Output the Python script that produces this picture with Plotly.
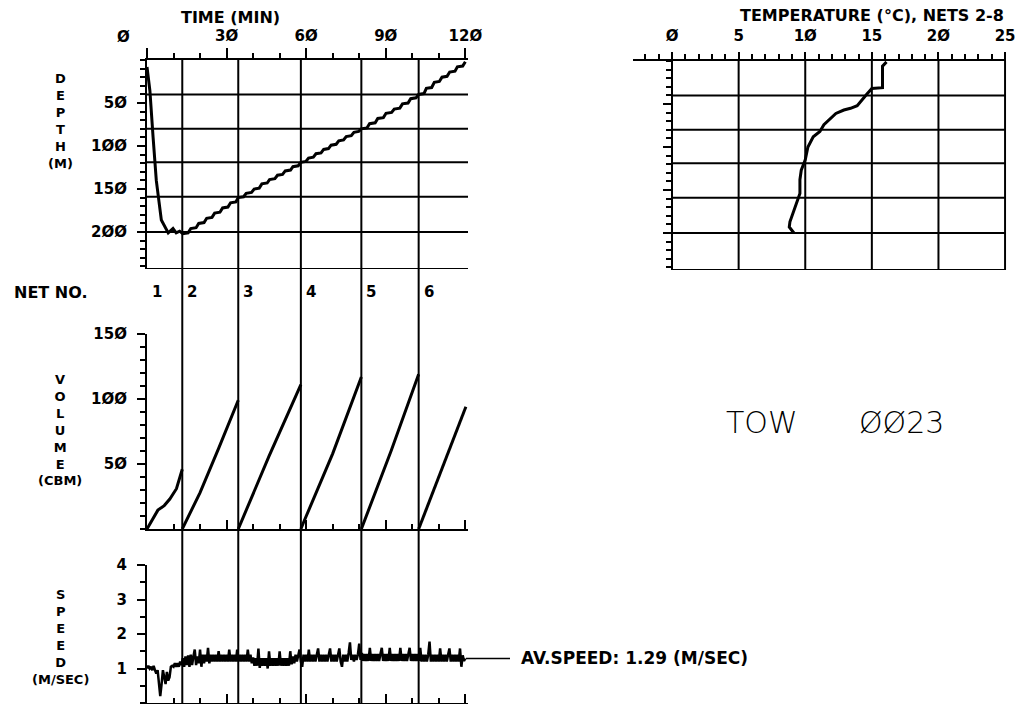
import plotly.graph_objects as go

W, H = 1019, 704


def fx(px):
    return px / W


def fy(py):
    return 1 - py / H


# ---------------- data ----------------
NET_NUMBERS = ["1", "2", "3", "4", "5", "6"]
NET_START_MIN = [0.0, 13.3, 34.4, 58.0, 80.8, 102.4]
NET_DEPTH_M = [200, 159, 119, 80, 40]          # depth at which nets 2-6 opened

DEPTH_TIME_MIN = [0.0, 1.1, 2.3, 3.5, 5.4, 7.3, 8.0, 9.8, 11.0, 12.3, 13.5,
                  15.5, 16.5, 18.5, 19.5, 21.5, 22.5, 24.5, 25.5, 27.5, 28.5, 30.5, 31.5, 33.5, 34.4,
                  36.4, 37.4, 39.4, 40.4, 42.3, 43.3, 45.3, 46.2, 48.2, 49.2, 51.1, 52.1, 54.1, 55.0, 57.0, 58.0,
                  59.9, 60.9, 62.7, 63.7, 65.6, 66.6, 68.4, 69.4, 71.3, 72.3, 74.1, 75.1, 77.0, 78.0, 79.8, 80.8,
                  82.9, 83.9, 86.0, 87.0, 89.1, 90.1, 92.2, 93.2, 95.3, 96.3, 98.4, 99.4, 101.4, 102.4,
                  104.4, 105.3, 107.3, 108.3, 110.2, 111.2, 113.1, 114.1, 116.1, 117.0, 119.0, 120.0]
DEPTH_M = [8, 36, 90, 140, 186, 198, 201, 196, 201, 199, 202,
           201, 196, 195, 190, 189, 184, 183, 178, 177, 172, 171, 166, 165, 160,
           159, 155, 154, 150, 149, 144, 143, 139, 138, 134, 133, 129, 128, 124, 123, 119,
           118, 114, 113, 109, 108, 104, 103, 99, 98, 94, 93, 89, 88, 84, 83, 80,
           79, 74, 73, 68, 67, 62, 61, 57, 56, 51, 50, 45, 44, 40,
           39, 33, 32, 26, 25, 20, 19, 14, 13, 8, 7, 2]

TEMP_C = [16.1, 15.8, 15.8, 15.0, 14.6, 14.3, 13.9, 13.4, 12.9, 12.3, 11.9, 11.4,
          11.1, 10.6, 10.2, 10.0, 9.7, 9.6, 9.6, 9.35, 9.1, 8.85, 8.8, 9.0, 9.15]
TEMP_DEPTH_M = [1, 6, 31, 32, 39, 45, 52, 55, 57, 61, 67, 74,
                82, 88, 100, 115, 127, 138, 154, 165, 177, 187, 193, 197, 200]

VOL_NET_TIME_MIN = [
    [0.0, 2.5, 4.1, 6.5, 8.6, 11.1, 13.3],
    [13.3, 20.0, 27.0, 34.4],
    [34.4, 46.0, 58.0],
    [58.0, 59.0, 70.0, 80.8],
    [80.8, 92.0, 102.4],
    [102.4, 120.2],
]
VOL_NET_CBM = [
    [0, 9, 14.5, 18, 23, 31, 46],
    [0, 28, 62, 99],
    [0, 56, 111],
    [0, 5, 58, 117],
    [0, 60, 119],
    [0, 94],
]

# flow speed sampled every half minute, 0 ... 120 min
SPEED_TIME_MIN = [i * 0.5 for i in range(241)]
SPEED_MS = [
    1.00, 1.08, 1.00, 1.05, 0.95, 1.08, 0.95, 0.85, 0.95, 0.60,
    0.20, 0.55, 0.95, 0.75, 0.55, 0.90, 0.65, 0.75, 1.05, 1.08,
    1.05, 1.15, 1.05, 1.15, 1.05, 1.20, 1.10, 1.30, 1.05, 1.35,
    1.10, 1.38, 1.05, 1.40, 1.10, 1.35, 1.55, 1.10, 1.35, 1.15,
    1.55, 1.05, 1.40, 1.15, 1.40, 1.20, 1.60, 1.15, 1.40, 1.20,
    1.40, 1.20, 1.40, 1.20, 1.50, 1.20, 1.40, 1.20, 1.40, 1.20,
    1.40, 1.20, 1.55, 1.20, 1.40, 1.20, 1.40, 1.20, 1.55, 1.20,
    1.40, 1.20, 1.40, 1.20, 1.40, 1.20, 1.55, 1.20, 1.40, 1.15,
    1.32, 1.08, 1.30, 1.08, 1.58, 1.02, 1.30, 1.08, 1.30, 1.08,
    1.30, 1.00, 1.50, 1.08, 1.30, 1.08, 1.30, 1.08, 1.30, 1.08,
    1.50, 1.08, 1.30, 1.08, 1.30, 1.08, 1.30, 1.08, 1.50, 1.12,
    1.35, 1.15, 1.40, 1.20, 1.40, 1.55, 1.20, 1.05, 1.40, 1.20,
    1.40, 1.20, 1.55, 1.20, 1.40, 1.20, 1.40, 1.20, 1.40, 1.58,
    1.20, 1.40, 1.20, 1.40, 1.20, 1.40, 1.20, 1.40, 1.58, 1.20,
    1.40, 1.20, 1.40, 1.20, 1.40, 1.58, 1.20, 1.05, 1.40, 1.20,
    1.40, 1.20, 1.45, 1.76, 1.25, 1.40, 1.20, 1.40, 1.25, 1.40,
    1.72, 1.25, 1.45, 1.22, 1.42, 1.22, 1.42, 1.22, 1.60, 1.22,
    1.42, 1.22, 1.42, 1.22, 1.42, 1.22, 1.42, 1.60, 1.22, 1.42,
    1.22, 1.42, 1.22, 1.60, 1.22, 1.42, 1.22, 1.42, 1.22, 1.42,
    1.22, 1.60, 1.22, 1.42, 1.22, 1.42, 1.22, 1.42, 1.60, 1.22,
    1.42, 1.22, 1.42, 1.22, 1.42, 1.22, 1.60, 1.20, 1.40, 1.20,
    1.40, 1.20, 1.40, 1.78, 1.20, 1.40, 1.20, 1.40, 1.20, 1.40,
    1.20, 1.58, 1.20, 1.40, 1.20, 1.40, 1.20, 1.40, 1.58, 1.20,
    1.40, 1.20, 1.40, 1.20, 1.40, 1.20, 1.58, 1.05, 1.38, 1.22,
    1.29,
]
AV_SPEED = 1.29

TIME_TICKS = [0, 30, 60, 90, 120]
TIME_TICK_TEXT = ["", "3Ø", "6Ø", "9Ø", "12Ø"]
DEPTH_TICKS = [50, 100, 150, 200]
DEPTH_TICK_TEXT = ["5Ø", "1ØØ", "15Ø", "2ØØ"]
TEMP_TICKS = [0, 5, 10, 15, 20, 25]
TEMP_TICK_TEXT = ["Ø", "5", "1Ø", "15", "2Ø", "25"]
VOL_TICKS = [50, 100, 150]
VOL_TICK_TEXT = ["5Ø", "1ØØ", "15Ø"]
SPEED_TICKS = [1, 2, 3, 4]
SPEED_TICK_TEXT = ["1", "2", "3", "4"]

# ---------------- styling ----------------
INK = "black"
BOLD = dict(family="DejaVu Sans", size=15, color=INK, weight="bold")
TITLE_FONT = dict(family="DejaVu Sans", size=16, color=INK, weight="bold")
LABEL_FONT = dict(family="DejaVu Sans", size=13, color=INK, weight="bold")

TIME_RANGE = [0, 121]
DEPTH_RANGE = [243, 0]
X_DOM = [fx(147), fx(468)]


def axis_common(**kw):
    d = dict(showline=True, linecolor=INK, linewidth=2, showgrid=False,
             zeroline=False, tickcolor=INK, tickwidth=2, tickfont=BOLD,
             fixedrange=True, automargin=False)
    d.update(kw)
    return d


fig = go.Figure()

fig.add_trace(go.Scatter(x=DEPTH_TIME_MIN, y=DEPTH_M, mode="lines",
                         line=dict(color=INK, width=3), xaxis="x", yaxis="y"))
fig.add_trace(go.Scatter(x=TEMP_C, y=TEMP_DEPTH_M, mode="lines",
                         line=dict(color=INK, width=3), xaxis="x2", yaxis="y2"))
vx, vy = [], []
for ts, vs in zip(VOL_NET_TIME_MIN, VOL_NET_CBM):
    vx += ts + [None]
    vy += vs + [None]
fig.add_trace(go.Scatter(x=vx, y=vy, mode="lines", connectgaps=False,
                         line=dict(color=INK, width=3), xaxis="x3", yaxis="y3"))
fig.add_trace(go.Scatter(x=SPEED_TIME_MIN, y=SPEED_MS, mode="lines",
                         line=dict(color=INK, width=2.5), xaxis="x4", yaxis="y4"))

shapes = []
for t in NET_START_MIN[1:]:
    shapes.append(dict(type="line", xref="x", yref="paper", x0=t, x1=t,
                       y0=fy(703), y1=fy(60), line=dict(color=INK, width=2)))
for d in NET_DEPTH_M + [DEPTH_RANGE[0]]:
    shapes.append(dict(type="line", xref="x", yref="y", x0=0, x1=TIME_RANGE[1],
                       y0=d, y1=d, line=dict(color=INK, width=2)))
for d in NET_DEPTH_M + [DEPTH_RANGE[0]]:
    shapes.append(dict(type="line", xref="x2", yref="y2", x0=0, x1=25,
                       y0=d, y1=d, line=dict(color=INK, width=2)))
for t in TEMP_TICKS[1:]:
    shapes.append(dict(type="line", xref="x2", yref="y2", x0=t, x1=t,
                       y0=0, y1=DEPTH_RANGE[0], line=dict(color=INK, width=2)))
shapes.append(dict(type="line", xref="paper", yref="y4", x0=fx(466), x1=fx(510),
                   y0=AV_SPEED, y1=AV_SPEED, line=dict(color=INK, width=1.5)))

annotations = []


def ann(text, x, y, font, xanchor="center", yanchor="middle", xref="paper", align="center", **kw):
    d = dict(text=text, x=x, y=y, xref=xref, yref="paper", showarrow=False,
             font=font, xanchor=xanchor, yanchor=yanchor, align=align)
    d.update(kw)
    annotations.append(d)


ann("TIME (MIN)", fx(230), fy(17), TITLE_FONT)
ann("Ø", fx(123), fy(37), BOLD)
ann("TEMPERATURE (°C), NETS 2-8", fx(1006), fy(15), TITLE_FONT, xanchor="right")
ann("D<br>E<br>P<br>T<br>H<br>(M)", fx(60), fy(121), LABEL_FONT)
ann("V<br>O<br>L<br>U<br>M<br>E<br>(CBM)", fx(60), fy(430), LABEL_FONT)
ann("S<br>P<br>E<br>E<br>D<br>(M/SEC)", fx(60), fy(637), LABEL_FONT)
ann("NET NO.", fx(12), fy(292), TITLE_FONT, xanchor="left")
for n, t in zip(NET_NUMBERS, NET_START_MIN):
    ann(n, t, fy(292), BOLD, xanchor="left", xref="x", xshift=3)
ann("AV.SPEED: %.2f (M/SEC)" % AV_SPEED, fx(519), fy(658),
    dict(family="DejaVu Sans", size=17, color=INK, weight="bold"), xanchor="left")
TOW_FONT = dict(family="DejaVu Sans", size=30, color=INK, weight=300)
ann("TOW", fx(724), fy(422), TOW_FONT, xanchor="left")
ann("ØØ23", fx(857), fy(422), TOW_FONT, xanchor="left")

fig.update_layout(
    width=W, height=H, margin=dict(l=0, r=0, t=0, b=0, autoexpand=False),
    paper_bgcolor="white", plot_bgcolor="white", showlegend=False,
    shapes=shapes, annotations=annotations,
    xaxis=axis_common(domain=X_DOM, range=TIME_RANGE, anchor="y", side="top",
                      tickmode="array", tickvals=TIME_TICKS, ticktext=TIME_TICK_TEXT,
                      ticks="outside", ticklen=10, ticklabelstandoff=1,
                      minor=dict(ticks="outside", ticklen=5, dtick=10, tick0=0,
                                 tickcolor=INK, tickwidth=2, showgrid=False)),
    yaxis=axis_common(domain=[fy(269), fy(60)], range=DEPTH_RANGE, anchor="x",
                      tickmode="array", tickvals=DEPTH_TICKS, ticktext=DEPTH_TICK_TEXT,
                      ticks="outside", ticklen=8, ticklabelstandoff=7,
                      minor=dict(ticks="outside", ticklen=5, dtick=10, tick0=0,
                                 tickcolor=INK, tickwidth=2, showgrid=False)),
    xaxis2=axis_common(domain=[fx(633.4), fx(1006.4)], range=[-2.9, 25.1], anchor="y2",
                       side="top", tickmode="array", tickvals=TEMP_TICKS,
                       ticktext=TEMP_TICK_TEXT, ticks="outside", ticklen=7,
                       ticklabelstandoff=5,
                       minor=dict(ticks="outside", ticklen=5, dtick=1, tick0=0,
                                  tickcolor=INK, tickwidth=2, showgrid=False)),
    yaxis2=axis_common(domain=[fy(270), fy(61)], range=DEPTH_RANGE, anchor="free",
                       position=fx(672), tickmode="array", tickvals=DEPTH_TICKS,
                       showticklabels=False, ticks="outside", ticklen=8,
                       minor=dict(ticks="outside", ticklen=5, dtick=10, tick0=0,
                                  tickcolor=INK, tickwidth=2, showgrid=False)),
    xaxis3=axis_common(domain=X_DOM, range=TIME_RANGE, anchor="y3",
                       tickmode="array", tickvals=TIME_TICKS, showticklabels=False,
                       ticks="inside", ticklen=9,
                       minor=dict(ticks="inside", ticklen=5, dtick=10, tick0=0,
                                  tickcolor=INK, tickwidth=2, showgrid=False)),
    yaxis3=axis_common(domain=[fy(529), fy(334)], range=[0, 150], anchor="x3",
                       tickmode="array", tickvals=VOL_TICKS, ticktext=VOL_TICK_TEXT,
                       ticks="outside", ticklen=8, ticklabelstandoff=7,
                       minor=dict(ticks="outside", ticklen=5, dtick=10, tick0=0,
                                  tickcolor=INK, tickwidth=2, showgrid=False)),
    xaxis4=axis_common(domain=X_DOM, range=TIME_RANGE, anchor="y4",
                       tickmode="array", tickvals=TIME_TICKS, showticklabels=False,
                       ticks="inside", ticklen=9,
                       minor=dict(ticks="inside", ticklen=5, dtick=10, tick0=0,
                                  tickcolor=INK, tickwidth=2, showgrid=False)),
    yaxis4=axis_common(domain=[fy(703), fy(565)], range=[0, 4], anchor="x4",
                       tickmode="array", tickvals=SPEED_TICKS, ticktext=SPEED_TICK_TEXT,
                       ticks="outside", ticklen=8, ticklabelstandoff=7,
                       minor=dict(ticks="outside", ticklen=5, dtick=0.5, tick0=0,
                                  tickcolor=INK, tickwidth=2, showgrid=False)),
)

fig.write_html("out.html",
               post_script="document.body.style.margin='0';"
                           "document.body.style.overflow='hidden';")
